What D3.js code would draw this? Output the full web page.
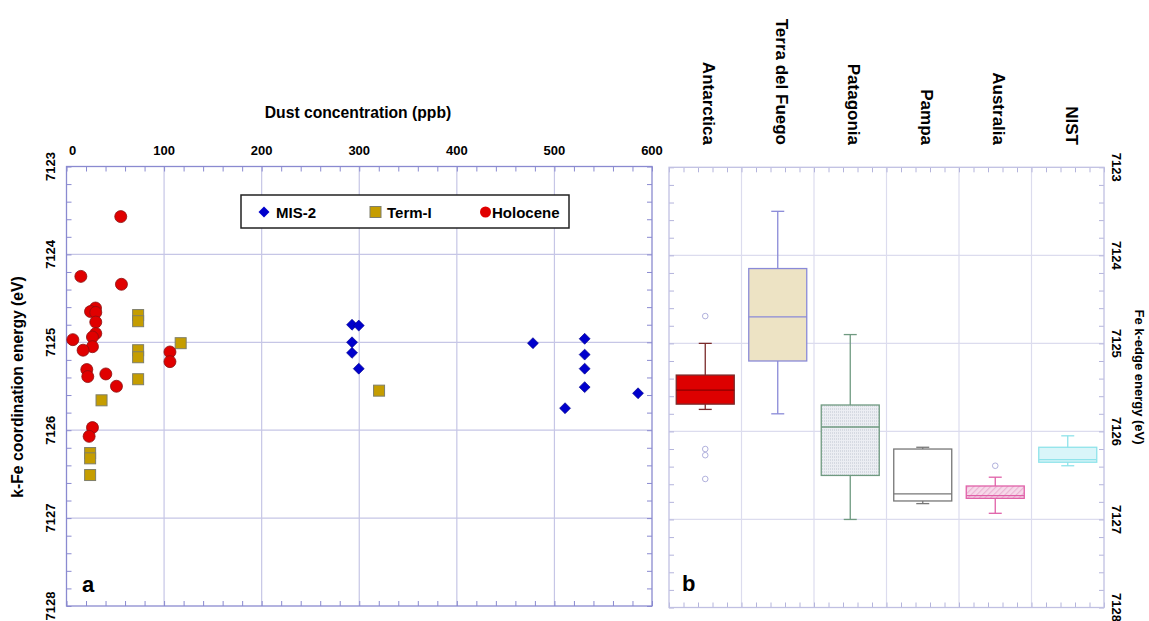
<!DOCTYPE html>
<html>
<head>
<meta charset="utf-8">
<script src="https://cdn.jsdelivr.net/npm/d3@7"></script>
<style>
  body { margin: 0; background: #fff; }
  svg { font-family: "Liberation Sans", Arial, sans-serif; }
</style>
</head>
<body>
<div id="chart"></div>
<script>
// ---- data ----
var dustTicks = [0, 100, 200, 300, 400, 500, 600];
var energyTicks = [7123, 7124, 7125, 7126, 7127, 7128];

var mis2Dust   = [292.6, 299.5, 292.6, 292.6, 299.5, 478, 531, 531, 531, 531, 510.9, 585.7];
var mis2Energy = [7124.80, 7124.81, 7125.00, 7125.12, 7125.30, 7125.01, 7124.96, 7125.14, 7125.30, 7125.51, 7125.75, 7125.58];

var termDust   = [73.4, 73.4, 73.4, 73.4, 117, 73.4, 35.9, 24.2, 24.2, 24.2, 320.3];
var termEnergy = [7124.69, 7124.76, 7125.09, 7125.17, 7125.01, 7125.42, 7125.66, 7126.26, 7126.32, 7126.51, 7125.55];

var holoDust   = [55.6, 14.7, 56.3, 29.7, 24.6, 30, 30, 30, 26.6, 6.5, 26.6, 17, 106, 106, 20.8, 21.8, 40.3, 51.2, 26.6, 23.2];
var holoEnergy = [7123.57, 7124.25, 7124.34, 7124.61, 7124.65, 7124.66, 7124.77, 7124.90, 7124.94, 7124.97, 7125.05, 7125.09, 7125.11, 7125.22, 7125.31, 7125.39, 7125.36, 7125.50, 7125.97, 7126.07];

var regions = ["Antarctica", "Terra del Fuego", "Patagonia", "Pampa", "Australia", "NIST"];
var boxMin    = [7125.00, 7123.50, 7124.90, 7126.18, 7126.52, 7126.05];
var boxQ1     = [7125.36, 7124.15, 7125.70, 7126.20, 7126.62, 7126.18];
var boxMedian = [7125.53, 7124.70, 7125.95, 7126.71, 7126.73, 7126.32];
var boxQ3     = [7125.69, 7125.20, 7126.50, 7126.79, 7126.76, 7126.35];
var boxMax    = [7125.75, 7125.80, 7127.00, 7126.82, 7126.93, 7126.39];
var boxOutliers = [[7124.69, 7126.20, 7126.27, 7126.54], [], [], [], [7126.39], []];

// ---- styles ----
var boxFill   = ["#dd0000", "#ede3c4", "url(#dots)", "#ffffff", "url(#hatch)", "#d9f5f9"];
var boxStroke = ["#7a2a2a", "#8a8ad8", "#6f9a80", "#777777", "#e060a8", "#8fe3ea"];
var boxMedStroke = ["#8a0000", "#8a8ad8", "#6f9a80", "#777777", "#e060a8", "#8fe3ea"];
var gridColor = "#c6c6e6";
var frameColor = "#8a8ad0";

var width = 1149, height = 621;
var svg = d3.select("#chart").append("svg")
    .attr("width", width)
    .attr("height", height);

var defs = svg.append("defs");
var dots = defs.append("pattern").attr("id", "dots").attr("width", 2).attr("height", 3)
    .attr("patternUnits", "userSpaceOnUse");
dots.append("rect").attr("width", 2).attr("height", 3).attr("fill", "#eceef3");
dots.append("rect").attr("width", 1).attr("height", 2).attr("fill", "#d6dae2");
var hatch = defs.append("pattern").attr("id", "hatch").attr("width", 4).attr("height", 4)
    .attr("patternUnits", "userSpaceOnUse").attr("patternTransform", "rotate(45)");
hatch.append("rect").attr("width", 4).attr("height", 4).attr("fill", "#f7d9ea");
hatch.append("rect").attr("width", 1.2).attr("height", 4).attr("fill", "#eab3d2");

// ================= panel a =================
var x = d3.scaleLinear().domain([0, 600]).range([66.5, 652]);
var y = d3.scaleLinear().domain([7123, 7128]).range([166.5, 606]);

var pa = svg.append("g");

// gridlines
pa.selectAll(".gx").data(dustTicks.slice(1, -1)).enter().append("line")
    .attr("x1", function (d) { return x(d); }).attr("x2", function (d) { return x(d); })
    .attr("y1", y.range()[0]).attr("y2", y.range()[1])
    .attr("stroke", gridColor).attr("stroke-width", 1.2);
pa.selectAll(".gy").data(energyTicks.slice(1, -1)).enter().append("line")
    .attr("x1", x.range()[0]).attr("x2", x.range()[1])
    .attr("y1", function (d) { return y(d); }).attr("y2", function (d) { return y(d); })
    .attr("stroke", gridColor).attr("stroke-width", 1.2);

// minor ticks (inside) on all four sides
var dustMinor = d3.range(0, 600.1, 20);
var energyMinor = d3.range(7123, 7128.01, 0.2);
function innerTicks(g, axis) {
    g.call(axis);
    g.selectAll("line").attr("stroke", frameColor);
    g.select(".domain").remove();
    g.selectAll("text").remove();
}
pa.append("g").attr("transform", "translate(0," + y.range()[0] + ")")
    .call(innerTicks, d3.axisTop(x).tickValues(dustMinor).tickSize(-5));
pa.append("g").attr("transform", "translate(0," + y.range()[1] + ")")
    .call(innerTicks, d3.axisBottom(x).tickValues(dustMinor).tickSize(-5));
pa.append("g").attr("transform", "translate(" + x.range()[0] + ",0)")
    .call(innerTicks, d3.axisLeft(y).tickValues(energyMinor).tickSize(-5));
pa.append("g").attr("transform", "translate(" + x.range()[1] + ",0)")
    .call(innerTicks, d3.axisRight(y).tickValues(energyMinor).tickSize(-5));

pa.append("rect")
    .attr("x", x.range()[0]).attr("y", y.range()[0])
    .attr("width", x.range()[1] - x.range()[0]).attr("height", y.range()[1] - y.range()[0])
    .attr("fill", "none").attr("stroke", frameColor).attr("stroke-width", 1.3);

// tick labels
pa.selectAll(".xl").data(dustTicks).enter().append("text")
    .attr("x", function (d) { return x(d) + (d === 0 ? 6 : 0); })
    .attr("y", 155)
    .attr("text-anchor", "middle")
    .style("font-size", "13px").style("font-weight", "bold")
    .text(function (d) { return d; });
pa.selectAll(".yl").data(energyTicks).enter().append("text")
    .attr("transform", function (d) { return "translate(50," + y(d) + ") rotate(-90)"; })
    .attr("dy", "0.35em")
    .attr("text-anchor", "middle")
    .style("font-size", "13px").style("font-weight", "bold")
    .text(function (d) { return d; });

// axis titles
pa.append("text")
    .attr("x", 358).attr("y", 118)
    .attr("text-anchor", "middle")
    .style("font-size", "15.7px").style("font-weight", "bold")
    .text("Dust concentration (ppb)");
pa.append("text")
    .attr("transform", "translate(17," + 387 + ") rotate(-90)")
    .attr("dy", "0.35em")
    .attr("text-anchor", "middle")
    .style("font-size", "15.7px").style("font-weight", "bold")
    .text("k-Fe coordination energy (eV)");

pa.append("text").attr("x", 82).attr("y", 592)
    .style("font-size", "22px").style("font-weight", "bold").text("a");

// markers
var diamond = d3.symbol().type(d3.symbolSquare).size(60);
pa.selectAll(".mis").data(d3.range(mis2Dust.length)).enter().append("path")
    .attr("d", diamond)
    .attr("transform", function (i) { return "translate(" + x(mis2Dust[i]) + "," + y(mis2Energy[i]) + ") rotate(45)"; })
    .attr("fill", "#0000cc").attr("stroke", "#000088").attr("stroke-width", 0.6);

pa.selectAll(".term").data(d3.range(termDust.length)).enter().append("rect")
    .attr("x", function (i) { return x(termDust[i]) - 5.5; })
    .attr("y", function (i) { return y(termEnergy[i]) - 5.5; })
    .attr("width", 11).attr("height", 11)
    .attr("fill", "#c59d00").attr("stroke", "#7f7f6a").attr("stroke-width", 1);

pa.selectAll(".holo").data(d3.range(holoDust.length)).enter().append("circle")
    .attr("cx", function (i) { return x(holoDust[i]); })
    .attr("cy", function (i) { return y(holoEnergy[i]); })
    .attr("r", 6)
    .attr("fill", "#e00000").attr("stroke", "#8a1010").attr("stroke-width", 0.8);

// legend
var lg = pa.append("g");
lg.append("rect").attr("x", 241).attr("y", 195).attr("width", 328).attr("height", 33)
    .attr("fill", "#fff").attr("stroke", "#222").attr("stroke-width", 1.5);
lg.append("path").attr("d", diamond)
    .attr("transform", "translate(264,212) rotate(45)").attr("fill", "#0000cc");
lg.append("text").attr("x", 276).attr("y", 217.5)
    .style("font-size", "15px").style("font-weight", "bold").text("MIS-2");
lg.append("rect").attr("x", 370).attr("y", 206.5).attr("width", 11).attr("height", 11)
    .attr("fill", "#c59d00").attr("stroke", "#7f7f6a");
lg.append("text").attr("x", 387).attr("y", 217.5)
    .style("font-size", "15px").style("font-weight", "bold").text("Term-I");
lg.append("circle").attr("cx", 485.5).attr("cy", 212).attr("r", 5.5).attr("fill", "#e00000");
lg.append("text").attr("x", 492).attr("y", 217.5)
    .style("font-size", "15px").style("font-weight", "bold").text("Holocene");

// ================= panel b =================
var xb = d3.scaleBand().domain(regions).range([669, 1104]);
var xs = d3.scaleLinear().domain([0, regions.length]).range(xb.range());
var yb = d3.scaleLinear().domain([7123, 7128]).range([167.3, 607.5]);
var bw = xb.bandwidth();

var pb = svg.append("g");
var gridB = "#dcdcee";
pb.selectAll(".gx").data(d3.range(1, regions.length)).enter().append("line")
    .attr("x1", function (d) { return xs(d); }).attr("x2", function (d) { return xs(d); })
    .attr("y1", yb.range()[0]).attr("y2", yb.range()[1])
    .attr("stroke", gridB).attr("stroke-width", 1.2);
pb.selectAll(".gy").data(energyTicks.slice(1, -1)).enter().append("line")
    .attr("x1", xs.range()[0]).attr("x2", xs.range()[1])
    .attr("y1", function (d) { return yb(d); }).attr("y2", function (d) { return yb(d); })
    .attr("stroke", gridB).attr("stroke-width", 1.2);

var catMinor = d3.range(0, regions.length + 0.01, 0.2);
function innerTicksB(g, axis) {
    g.call(axis);
    g.selectAll("line").attr("stroke", "#b4b4dc");
    g.select(".domain").remove();
    g.selectAll("text").remove();
}
pb.append("g").attr("transform", "translate(0," + yb.range()[0] + ")")
    .call(innerTicksB, d3.axisTop(xs).tickValues(catMinor).tickSize(-5));
pb.append("g").attr("transform", "translate(0," + yb.range()[1] + ")")
    .call(innerTicksB, d3.axisBottom(xs).tickValues(catMinor).tickSize(-5));
pb.append("g").attr("transform", "translate(" + xs.range()[0] + ",0)")
    .call(innerTicksB, d3.axisLeft(yb).tickValues(energyMinor).tickSize(-5));
pb.append("g").attr("transform", "translate(" + xs.range()[1] + ",0)")
    .call(innerTicksB, d3.axisRight(yb).tickValues(energyMinor).tickSize(-5));

pb.append("rect")
    .attr("x", xs.range()[0]).attr("y", yb.range()[0])
    .attr("width", xs.range()[1] - xs.range()[0]).attr("height", yb.range()[1] - yb.range()[0])
    .attr("fill", "none").attr("stroke", "#c0c0e2").attr("stroke-width", 1.3);

// boxes
var bx = pb.selectAll(".box").data(d3.range(regions.length)).enter().append("g");
var cx = function (i) { return xb(regions[i]) + bw / 2; };
bx.append("line")
    .attr("x1", cx).attr("x2", cx)
    .attr("y1", function (i) { return yb(boxMin[i]); })
    .attr("y2", function (i) { return yb(boxMax[i]); })
    .attr("stroke", function (i) { return boxStroke[i]; }).attr("stroke-width", 1.3);
bx.selectAll(".cap").data(function (i) { return [[i, boxMin[i]], [i, boxMax[i]]]; }).enter().append("line")
    .attr("x1", function (d) { return cx(d[0]) - 6.5; })
    .attr("x2", function (d) { return cx(d[0]) + 6.5; })
    .attr("y1", function (d) { return yb(d[1]); })
    .attr("y2", function (d) { return yb(d[1]); })
    .attr("stroke", function (d) { return boxStroke[d[0]]; }).attr("stroke-width", 1.3);
bx.append("rect")
    .attr("x", function (i) { return cx(i) - bw * 0.4; })
    .attr("width", bw * 0.8)
    .attr("y", function (i) { return yb(boxQ1[i]); })
    .attr("height", function (i) { return yb(boxQ3[i]) - yb(boxQ1[i]); })
    .attr("fill", function (i) { return boxFill[i]; })
    .attr("stroke", function (i) { return boxStroke[i]; }).attr("stroke-width", 1.3);
bx.append("line")
    .attr("x1", function (i) { return cx(i) - bw * 0.4; })
    .attr("x2", function (i) { return cx(i) + bw * 0.4; })
    .attr("y1", function (i) { return yb(boxMedian[i]); })
    .attr("y2", function (i) { return yb(boxMedian[i]); })
    .attr("stroke", function (i) { return boxMedStroke[i]; }).attr("stroke-width", 1.3);
bx.selectAll(".out").data(function (i) { return boxOutliers[i].map(function (v) { return [i, v]; }); })
    .enter().append("circle")
    .attr("cx", function (d) { return cx(d[0]); })
    .attr("cy", function (d) { return yb(d[1]); })
    .attr("r", 2.8)
    .attr("fill", "none").attr("stroke", "#a8a8d8").attr("stroke-width", 0.9);

// category labels
pb.selectAll(".cl").data(regions).enter().append("text")
    .attr("transform", function (d) { return "translate(" + (xb(d) + bw / 2 + 4) + ",145) rotate(90)"; })
    .attr("dy", "0.35em")
    .attr("text-anchor", "end")
    .style("font-size", "17px").style("font-weight", "bold")
    .text(function (d) { return d; });

// right axis labels
pb.selectAll(".yl").data(energyTicks).enter().append("text")
    .attr("transform", function (d) { return "translate(1117," + yb(d) + ") rotate(90)"; })
    .attr("dy", "0.35em")
    .attr("text-anchor", "middle")
    .style("font-size", "13px").style("font-weight", "bold")
    .text(function (d) { return d; });
pb.append("text")
    .attr("transform", "translate(1140,377) rotate(90)")
    .attr("dy", "0.35em")
    .attr("text-anchor", "middle")
    .style("font-size", "13px").style("font-weight", "bold")
    .text("Fe k-edge energy (eV)");

pb.append("text").attr("x", 682).attr("y", 591)
    .style("font-size", "22px").style("font-weight", "bold").text("b");
</script>
</body>
</html>
